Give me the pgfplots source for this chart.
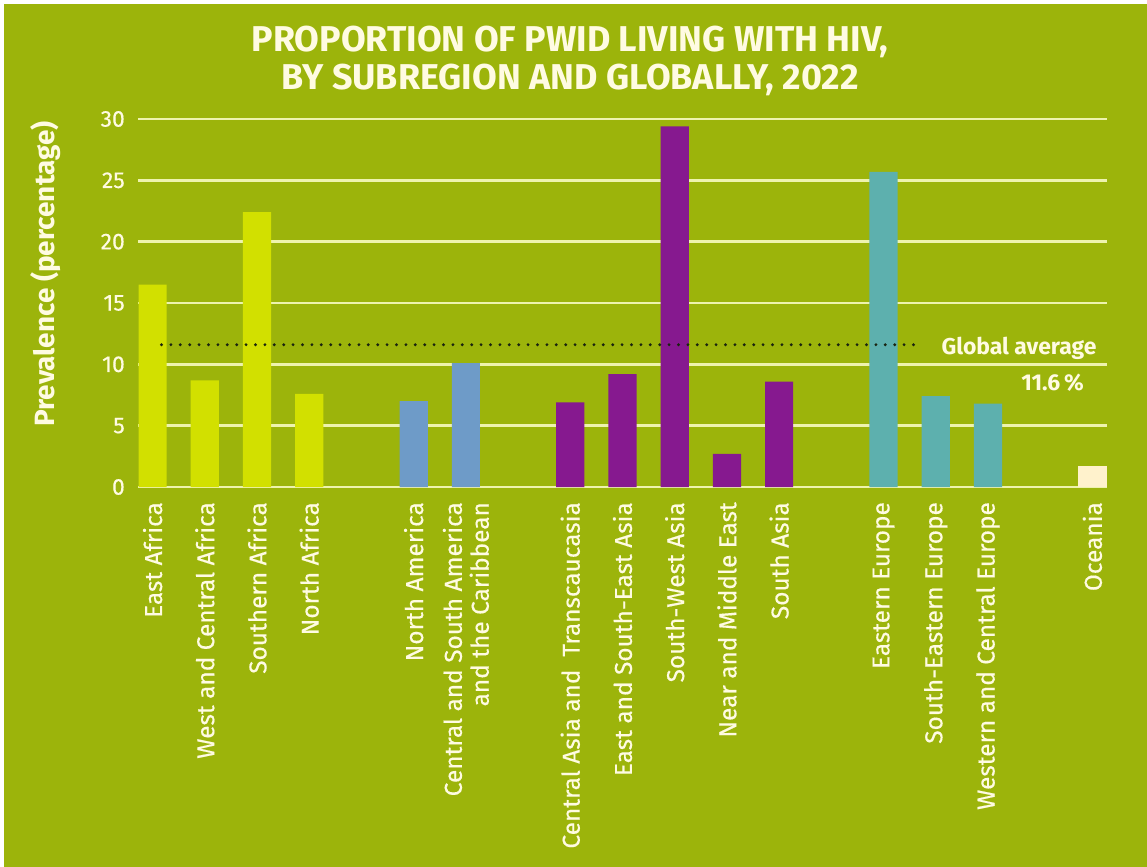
\documentclass[border=0pt]{standalone}
\usepackage{pgfplots}
\pgfplotsset{compat=1.18}
\usepackage{fontspec}
\setmainfont{Fira Sans}
\newfontfamily\lblfont{Fira Sans}[FakeBold=0.4]
\definecolor{bg}{HTML}{9CB40B}
\definecolor{txt}{HTML}{FFFBE2}
\definecolor{gridc}{HTML}{EEF3AE}
\definecolor{cafr}{HTML}{D2E000}
\definecolor{camr}{HTML}{6E9BC8}
\definecolor{casi}{HTML}{86198F}
\definecolor{ceur}{HTML}{5DB0AE}
\definecolor{coce}{HTML}{FFF2CC}
\definecolor{dotc}{HTML}{1A2410}
\begin{document}
\begin{tikzpicture}[x=1bp,y=1bp]
\fill[white] (0,0) rectangle (1147,-867);
\fill[bg] (4,-4) rectangle (1147,-867);
\node[font=\fontsize{36}{38}\selectfont\bfseries, text=txt, align=center] at (570,-61) {PROPORTION OF PWID LIVING WITH HIV,\\BY SUBREGION AND GLOBALLY, 2022};
\node[rotate=90, font=\fontsize{28}{30}\selectfont\bfseries, text=txt] at (46,-274) {Prevalence (percentage)};
\begin{axis}[
  at={(138bp,-487bp)}, anchor=south west,
  scale only axis, width=969bp, height=368bp,
  ymin=0, ymax=30, ytick={0,5,...,30},
  xmin=-0.28, xmax=18.28,
  xtick={0,1,2,3,5,6,8,9,10,11,12,14,15,16,18},
  xticklabels={East Africa, West and Central Africa, Southern Africa, North Africa,
    North America, {Central and South America\\and the Caribbean},
    Central Asia and\ \ Transcaucasia, East and South-East Asia, South-West Asia, Near and Middle East, South Asia,
    Eastern Europe, South-Eastern Europe, Western and Central Europe, Oceania},
  ymajorgrids, grid style={gridc, line width=2.5bp},
  axis line style={draw=none}, major tick length=0pt,
  ybar, bar width=0.54,
  /pgf/number format/assume math mode=true,
  tick label style={text=txt},
  yticklabel style={anchor=east, inner sep=0pt, font=\lblfont\fontsize{23}{25}\selectfont},
  yticklabel shift=13bp,
  xticklabel style={rotate=90, anchor=east, align=right, inner sep=0pt, font=\lblfont\fontsize{24.5}{27}\selectfont},
  xticklabel shift=15bp,
  clip=false,
]
\addplot[fill=cafr, draw=none, bar shift=0pt] coordinates {(0,16.5) (1,8.7) (2,22.4) (3,7.6)};
\addplot[fill=camr, draw=none, bar shift=0pt] coordinates {(5,7.0) (6,10.1)};
\addplot[fill=casi, draw=none, bar shift=0pt] coordinates {(8,6.9) (9,9.2) (10,29.4) (11,2.7) (12,8.6)};
\addplot[fill=ceur, draw=none, bar shift=0pt] coordinates {(14,25.7) (15,7.4) (16,6.8)};
\addplot[fill=coce, draw=none, bar shift=0pt] coordinates {(18,1.7)};
\addplot[sharp plot, draw=dotc, line width=3.2bp, line cap=round, dash pattern=on 0pt off 9.4bp] coordinates {(0.17,11.6) (14.6,11.6)};
\node[anchor=east, text=txt, font=\fontsize{23}{25}\selectfont\bfseries, inner sep=0pt] at (axis cs:18.08,11.33) {Global average};
\node[anchor=east, text=txt, font=\fontsize{23}{25}\selectfont\bfseries, inner sep=0pt] at (axis cs:17.84,8.48) {11.6\,\%};
\end{axis}
\end{tikzpicture}
\end{document}
